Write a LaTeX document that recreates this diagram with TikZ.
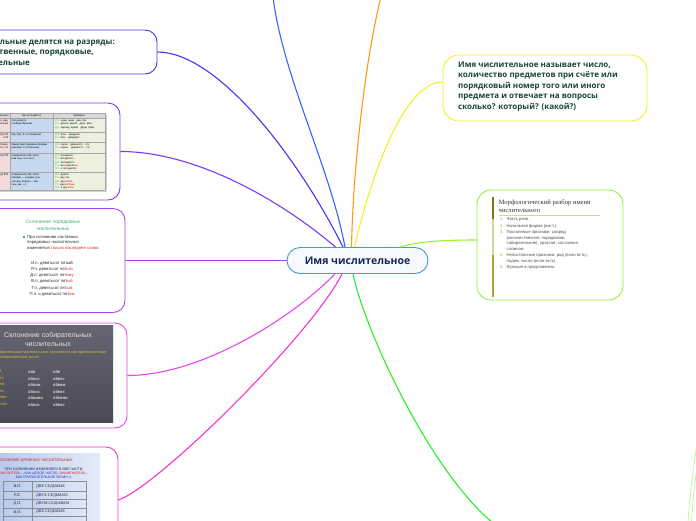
\documentclass[tikz,border=0pt]{standalone}
\usepackage{fontspec}
\setmainfont{Open Sans}
\newfontfamily\imgsans{Liberation Sans}
\newfontfamily\imgserif{Liberation Serif}
\usetikzlibrary{calc, positioning}
\definecolor{rootblue}{RGB}{70,150,215}
\definecolor{rootfill}{RGB}{246,250,254}
\definecolor{roottext}{RGB}{25,40,80}
\definecolor{notegreen}{RGB}{25,70,55}
\definecolor{topblue}{RGB}{50,100,255}
\definecolor{toporange}{RGB}{255,150,20}
\definecolor{catblue}{RGB}{70,55,235}
\definecolor{tblpurple}{RGB}{120,60,245}
\definecolor{ordviolet}{RGB}{170,70,240}
\definecolor{collmagenta}{RGB}{230,70,245}
\definecolor{fracpink}{RGB}{250,50,200}
\definecolor{downgreen}{RGB}{40,240,40}
\definecolor{edgegreen}{RGB}{170,245,140}
\definecolor{defyellow}{RGB}{240,240,40}
\definecolor{morphgreen}{RGB}{150,240,60}
\definecolor{tblpink}{RGB}{242,220,219}
\definecolor{tblblue}{RGB}{198,217,241}
\definecolor{tblgreen}{RGB}{235,241,222}
\definecolor{tblhead}{RGB}{216,216,216}
\definecolor{tblcase}{RGB}{60,170,60}
\definecolor{ordgreen}{RGB}{60,175,120}
\definecolor{ordred}{RGB}{220,40,40}
\definecolor{collgraytop}{RGB}{102,102,114}
\definecolor{collgraybot}{RGB}{74,74,86}
\definecolor{collcream}{RGB}{232,228,210}
\definecolor{collyellow}{RGB}{215,195,40}
\definecolor{fracblueL}{RGB}{170,192,234}
\definecolor{fracblueR}{RGB}{228,235,247}
\definecolor{fracred}{RGB}{210,30,30}
\definecolor{fracblue}{RGB}{30,50,190}
\definecolor{fracnavy}{RGB}{25,30,80}
\definecolor{morpholive}{RGB}{120,120,25}
\definecolor{morphkhaki}{RGB}{214,214,150}
\definecolor{morphmid}{RGB}{168,168,50}
\newcommand\casemark[1]{\textcolor{tblcase}{#1}}
\newcommand\redmark[1]{\textcolor{red}{#1}}

\begin{document}
\begin{tikzpicture}[x=1pt, y=-1pt,
    topic/.style  = {rectangle, rounded corners=12pt, line width=0.9pt, fill=white,
                     inner sep=0pt},
    root/.style   = {topic, draw=rootblue, fill=rootfill, text=roottext, rounded corners=13pt,
                     font=\bfseries\fontsize{10.5}{12}\selectfont,
                     minimum width=141pt, minimum height=26pt},
    note/.style   = {font=\bfseries\fontsize{8}{10.5}\selectfont, text=notegreen,
                     align=left, anchor=north west, inner sep=0pt},
    link/.style   = {line width=1.1pt},
    cell/.style   = {font=\imgsans\fontsize{2.6}{3.3}\selectfont, align=left, inner sep=0pt},
    small/.style  = {font=\imgsans\fontsize{4.2}{5.5}\selectfont, inner sep=0pt, text=black!85},
    fraccell/.style = {font=\imgserif\fontsize{4}{5}\selectfont, inner sep=0pt, text=fracnavy},
    tblgrid/.style  = {draw=black!35, line width=0.3pt},
]
\useasboundingbox (0,0) rectangle (696,520);

% ---------------- centre ----------------
\node[root] (root) at (357.5,260.5) {Имя числительное};

% ---------------- categories ----------------
\node[topic, draw=catblue, minimum width=217pt, minimum height=44pt] (cats) at (48.5,52) {};
\node[note] (catstext) at (-36,38.5) {Числительные делятся на разряды:\\количественные, порядковые,\\собирательные};

% ---------------- cardinal table ----------------
\node[topic, draw=tblpurple, minimum width=160pt, minimum height=97pt] (cardinal) at (40,151.5) {};
\fill[black!18] (-30,115) rectangle (107,192);
\fill[tblpink] (-30,113) rectangle (10,190);
\fill[tblblue] (10,113) rectangle (53,190);
\fill[tblgreen] (53,113) rectangle (105,190);
\fill[tblhead] (-30,113) rectangle (105,118);
\foreach \ry in {113,118,132,142,153,172,190} \draw[tblgrid] (-30,\ry) -- (105,\ry);
\foreach \rx in {10,53,105} \draw[tblgrid] (\rx,113) -- (\rx,190);
\node[cell, anchor=east] (cardhead1) at (9,115.5) {Разряд числительных};
\node[cell] (cardhead2) at (31.5,115.5) {Как склоняются};
\node[cell] (cardhead3) at (79,115.5) {Примеры};
\foreach \ry/\grp/\how/\ex [count=\i] in {
    118/{Один, два,\\три, четыре}/{Склоняются\\особым образом}/{\casemark{И.п.} один, одна\quad два, три\\\casemark{Р.п.} одного, одной\quad двух, трёх\\\casemark{Д.п.} одному, одной\quad двум, трём},
    132/{От 5 до 20\\и 30}/{Как сущ. 3-го склонения}/{\casemark{И.п.} пять\quad двадцать\\\casemark{Р.п.} пят\redmark{и}\quad двадцат\redmark{и}},
    142/{Сорок,\\девяносто, сто}/{Имеют две падежные формы\\(им./вин. и остальные)}/{\casemark{И.п.} сорок\quad девяносто\quad сто\\\casemark{Р.п.} сорок\redmark{а}\quad девяност\redmark{а}\quad ст\redmark{а}},
    153/{От 50 до 80}/{Изменяются обе части\\(как сущ. 3-го скл.)}/{\casemark{И.п.} пятьдесят\\\casemark{Р.п.} пят\redmark{и}десят\redmark{и}\\\casemark{Д.п.} пят\redmark{и}десят\redmark{и}\\\casemark{Т.п.} пят\redmark{ью}десят\redmark{ью}\\\casemark{П.п.} о пят\redmark{и}десят\redmark{и}},
    172/{От 200 до 900}/{Изменяются обе части\\(первая — как два, три,\\четыре; вторая — как\\сущ. мн. ч.)}/{\casemark{И.п.} двести\\\casemark{Р.п.} дв\redmark{ух}сот\\\casemark{Д.п.} дв\redmark{ум}ст\redmark{ам}\\\casemark{Т.п.} дв\redmark{умя}ст\redmark{ами}\\\casemark{П.п.} о дв\redmark{ух}ст\redmark{ах}}} {
  \node[cell, anchor=north east, align=right] (cardgrp\i) at (8.5,\ry+1.5) {\grp};
  \node[cell, anchor=north west] (cardhow\i) at (11.5,\ry+1.5) {\how};
  \node[cell, anchor=north west] (cardex\i) at (55,\ry+1.5) {\ex};
}

% ---------------- ordinal ----------------
\node[topic, draw=ordviolet, minimum width=165pt, minimum height=104pt] (ordinal) at (42.5,260.5) {};
\node[font=\imgsans\fontsize{5}{7}\selectfont, text=ordgreen, align=center, inner sep=0pt] (ordhead) at (53,225.5) {Склонение порядковых\\числительных};
\fill[ordgreen] (23.3,236.2) rectangle (25.1,238);
\node[small, anchor=north west, align=left] (ordrule) at (27,235.2) {При склонении составных\\порядковых числительных\\изменяется \textcolor{ordred}{только последнее слово.}};
\foreach \cas/\stem/\tail/\col [count=\i] in {И.п./{девятьсот пят}/ый/black, Р.п./{девятьсот пят}/ого/ordred,
    Д.п./{девятьсот пят}/ому/ordred, В.п./{девятьсот пят}/ый/ordred, Т.п./{девятьсот пят}/ым/ordred,
    П.п./{о девятьсот пят}/ом/ordred}
  \node[small] (ordcase\i) at (52,257+6.2*\i) {\cas\ \stem\textcolor{\col}{\tail}};

% ---------------- collective ----------------
\node[topic, draw=collmagenta, minimum width=167pt, minimum height=105pt] (collective) at (43.5,375.5) {};
\shade[top color=collgraytop, bottom color=collgraybot] (-30,325) rectangle (113,422);
\node[font=\imgsans\fontsize{7}{9}\selectfont, text=collcream, align=center, inner sep=0pt] (collhead) at (48,339.5) {Склонение собирательных\\числительных};
\node[small, anchor=north west, align=left, text=collyellow, font=\imgsans\fontsize{3.8}{5.5}\selectfont] (collrule) at (-6,350.5) {Собирательные числительные склоняются как прилагательные\\во множественном числе.};
\foreach \a/\b/\c [count=\i] in {двое/оба/обе, двоих/обоих/обеих, двоим/обоим/обеим,
    двоих/обоих/обеих, двоими/обоими/обеими, {о двоих}/обоих/обеих} {
  \node[small, anchor=west, text=collyellow] (colla\i) at (-8,365.5+6.5*\i) {\a};
  \node[small, anchor=west, text=white] (collb\i) at (28,365.5+6.5*\i) {\b};
  \node[small, anchor=west, text=white] (collc\i) at (53,365.5+6.5*\i) {\c};
}

% ---------------- fractional ----------------
\node[topic, draw=fracpink, minimum width=158pt, minimum height=106pt] (fraction) at (39,500) {};
\shade[left color=fracblueL, right color=fracblueR] (-30,453) rectangle (100,560);
\node[small, anchor=west, text=fracred, font=\imgsans\fontsize{3.8}{4.4}\selectfont] (frachead) at (-4,460.7) {СКЛОНЕНИЕ ДРОБНЫХ ЧИСЛИТЕЛЬНЫХ};
\node[small, align=center, text=fracblue, font=\imgsans\fontsize{3.5}{4.4}\selectfont] (fracrule) at (44,473.3) {\textcolor{fracnavy}{ПРИ СКЛОНЕНИИ ИЗМЕНЯЮТСЯ ОБЕ ЧАСТИ:}\\\textcolor{fracred}{ЧИСЛИТЕЛЬ} – КАК ЦЕЛОЕ ЧИСЛО, \textcolor{fracred}{ЗНАМЕНАТЕЛЬ} –\\КАК ПРИЛАГАТЕЛЬНОЕ ВО МН.Ч.};
\foreach \ry in {481,491,499.5,508,516} \draw[draw=black!45, line width=0.4pt] (3,\ry) -- (86,\ry);
\foreach \rx in {3,32,86} \draw[draw=black!45, line width=0.4pt] (\rx,481) -- (\rx,525);
\foreach \cas/\val [count=\i] in {И.П./ДВЕ СЕДЬМЫХ, Р.П./ДВУХ СЕДЬМЫХ, Д.П./ДВУМ СЕДЬМЫМ, В.П./ДВЕ СЕДЬМЫХ} {
  \node[fraccell] (fraccase\i) at (17.5,478.3+8.4*\i) {\cas};
  \node[fraccell, anchor=west] (fracval\i) at (36,478.3+8.4*\i) {\val};
}

% ---------------- right branches ----------------
\node[topic, draw=defyellow, rounded corners=16pt, minimum width=204pt, minimum height=66pt] (defn) at (545,88) {};
\node[note] (defntext) at (458,61.5) {Имя числительное называет число,\\количество предметов при счёте или\\порядковый номер того или иного\\предмета и отвечает на вопросы\\сколько? который? (какой?)};

\node[topic, draw=morphgreen, rounded corners=14pt, minimum width=146pt, minimum height=110pt] (morph) at (550,245) {};
\fill[morpholive] (491.5,197) rectangle (494,219);
\fill[morphkhaki] (491.5,219) rectangle (494,255);
\fill[morphmid] (491.5,255) rectangle (494,297);
\node[font=\imgserif\fontsize{6.6}{8}\selectfont, text=black!80, align=left, anchor=north west, inner sep=0pt] (morphhead) at (498.5,199.5) {Морфологический разбор имени\\числительного};
\draw[morphkhaki, line width=0.6pt] (498.5,215) -- (600,215);
\foreach \n/\ry/\txtline in {1/220/{Часть речи.}, 2/226.5/{Начальная форма (им.п.).},
    3/233/{Постоянные признаки: разряд\\(количественное, порядковое,\\собирательное), простое, составное,\\сложное.},
    4/255.5/{Непостоянные признаки: род (если есть),\\падеж, число (если есть).}, 5/268/{Функция в предложении.}} {
  \node[small, text=morphmid, anchor=north west] (morphnum\n) at (500,\ry-2.2) {\n.};
  \node[small, text=black!70, anchor=north west, align=left] (morphstep\n) at (506.5,\ry-2.2) {\txtline};
}

% ---------------- connectors ----------------
\coordinate (offA) at (273,-3);
\coordinate (offB) at (381,-3);
\coordinate (offC) at (493,523);
\coordinate (edgeA) at (699,420);
\coordinate (edgeB) at (688,523);
\coordinate (edgeC) at (702,420);
\coordinate (edgeD) at (691.5,523);
\draw[link, topblue] ([xshift=-12.5]root.north) .. controls +(-15,-80) and +(10,80) .. (offA);
\draw[link, toporange] ([xshift=-6]root.north) .. controls +(1.5,-77) and +(-16,63) .. (offB);
\draw[link, catblue] ([xshift=-14.5]root.north) .. controls +(-45,-90) and +(60,0) .. (cats.east);
\draw[link, tblpurple] (cardinal.east) .. controls +(75,0) and +(-55,-47) .. ([xshift=-22]root.north);
\draw[link, ordviolet] (ordinal.east) -- (root.west);
\draw[link, collmagenta] (collective.east) .. controls +(72,0) and +(-45,46) .. ([xshift=-22.5]root.south);
\draw[link, fracpink] (fraction.east) .. controls +(40,-14) and +(-30,60) .. ([xshift=-15.5]root.south);
\draw[link, downgreen] ([xshift=-4.5]root.south) .. controls +(12,57) and +(-63,-52) .. (offC);
\draw[edgegreen, line width=0.6pt] (edgeA) .. controls +(-3,40) and +(2,-40) .. (edgeB);
\draw[edgegreen, line width=0.6pt] (edgeC) .. controls +(-3,40) and +(2,-40) .. (edgeD);
\draw[link, defyellow] ([xshift=-3]root.north) .. controls +(15,-65) and +(-40,0) .. ([yshift=6]defn.west);
\draw[link, morphgreen] ([xshift=42]root.north) .. controls +(20,-6) and +(-30,0) .. ([yshift=5]morph.west);
\end{tikzpicture}
\end{document}
